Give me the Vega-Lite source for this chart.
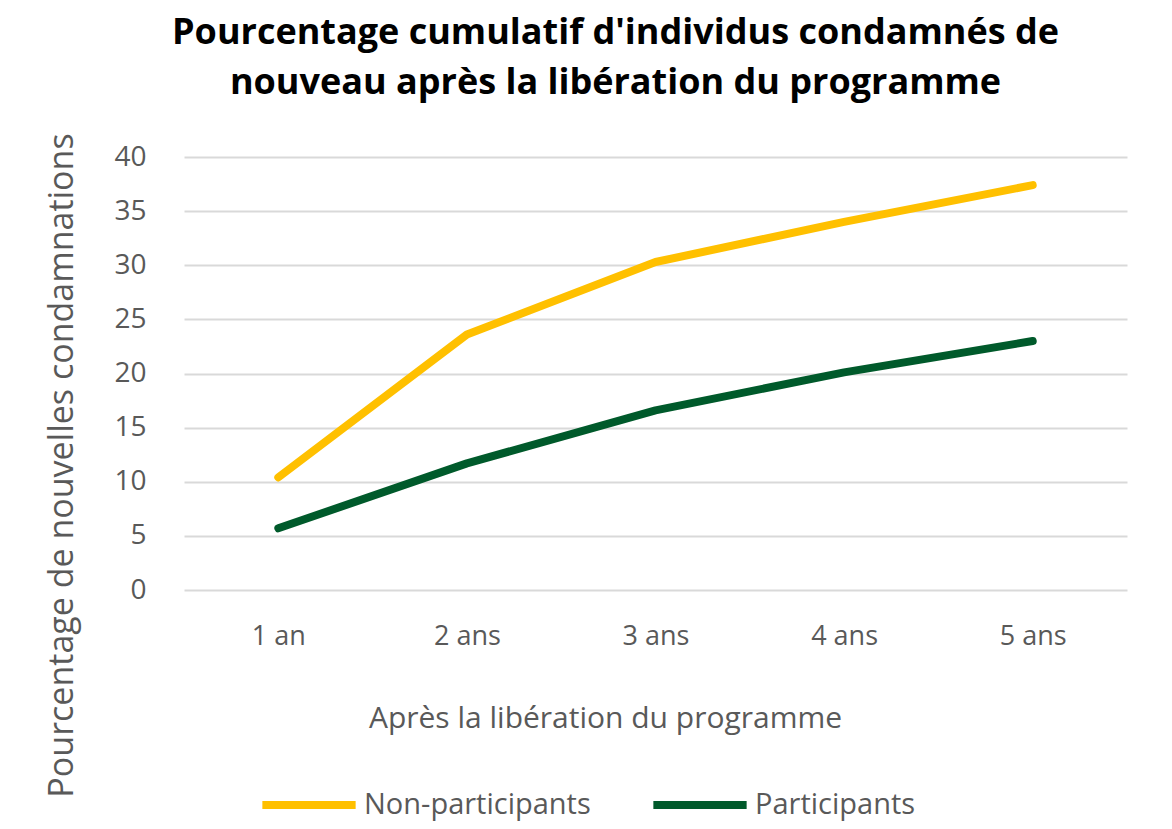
{
  "$schema": "https://vega.github.io/schema/vega-lite/v6.json",
  "width": 943,
  "height": 433,
  "autosize": {"type": "none"},
  "padding": {"left": 184, "top": 157, "right": 45, "bottom": 239},
  "background": "white",
  "title": {
    "text": ["Pourcentage cumulatif d'individus condamnés de", "nouveau après la libération du programme"],
    "font": "Open Sans",
    "fontSize": 36,
    "fontWeight": "bold",
    "color": "#000000",
    "anchor": "middle",
    "frame": "group",
    "lineHeight": 50,
    "dx": -40,
    "offset": 31,
    "baseline": "top"
  },
  "data": {
    "values": [
      {"annee": "1 an", "groupe": "Non-participants", "valeur": 10.4},
      {"annee": "2 ans", "groupe": "Non-participants", "valeur": 23.6},
      {"annee": "3 ans", "groupe": "Non-participants", "valeur": 30.3},
      {"annee": "4 ans", "groupe": "Non-participants", "valeur": 34.0},
      {"annee": "5 ans", "groupe": "Non-participants", "valeur": 37.4},
      {"annee": "1 an", "groupe": "Participants", "valeur": 5.7},
      {"annee": "2 ans", "groupe": "Participants", "valeur": 11.7},
      {"annee": "3 ans", "groupe": "Participants", "valeur": 16.6},
      {"annee": "4 ans", "groupe": "Participants", "valeur": 20.1},
      {"annee": "5 ans", "groupe": "Participants", "valeur": 23.0}
    ]
  },
  "mark": {"type": "line", "strokeWidth": 8, "strokeCap": "round", "strokeJoin": "round"},
  "encoding": {
    "x": {
      "field": "annee",
      "type": "ordinal",
      "scale": {"type": "point", "padding": 0.5},
      "axis": {
        "title": "Après la libération du programme",
        "labelAngle": 0,
        "labelFont": "Open Sans",
        "labelFontSize": 27,
        "labelColor": "#595959",
        "labelPadding": 33,
        "ticks": false,
        "domain": false,
        "grid": false,
        "titleFont": "Open Sans",
        "titleFontSize": 30,
        "titleFontWeight": "normal",
        "titleColor": "#595959",
        "titlePadding": 54,
        "titleX": 421,
        "titleAlign": "center"
      }
    },
    "y": {
      "field": "valeur",
      "type": "quantitative",
      "scale": {"domain": [0, 40], "nice": false},
      "axis": {
        "title": "Pourcentage de nouvelles condamnations",
        "values": [0, 5, 10, 15, 20, 25, 30, 35, 40],
        "labelFont": "Open Sans",
        "labelFontSize": 28,
        "labelColor": "#595959",
        "labelPadding": 38,
        "ticks": false,
        "domain": false,
        "grid": true,
        "gridColor": "#D9D9D9",
        "gridWidth": 2,
        "titleFont": "Open Sans",
        "titleFontSize": 34,
        "titleFontWeight": "normal",
        "titleColor": "#595959",
        "titleAngle": -90,
        "titleAlign": "center",
        "titleBaseline": "middle",
        "titleX": -122,
        "titleY": 308
      }
    },
    "color": {
      "field": "groupe",
      "type": "nominal",
      "scale": {"domain": ["Non-participants", "Participants"], "range": ["#FFC000", "#005A2B"]},
      "legend": {
        "title": null,
        "orient": "none",
        "direction": "horizontal",
        "legendX": 74,
        "legendY": 597,
        "symbolType": "stroke",
        "symbolSize": 8700,
        "symbolStrokeWidth": 8,
        "labelFont": "Open Sans",
        "labelFontSize": 29,
        "labelColor": "#595959",
        "labelOffset": 4,
        "labelLimit": 400,
        "columnPadding": 46
      }
    }
  },
  "config": {"view": {"stroke": null}}
}
